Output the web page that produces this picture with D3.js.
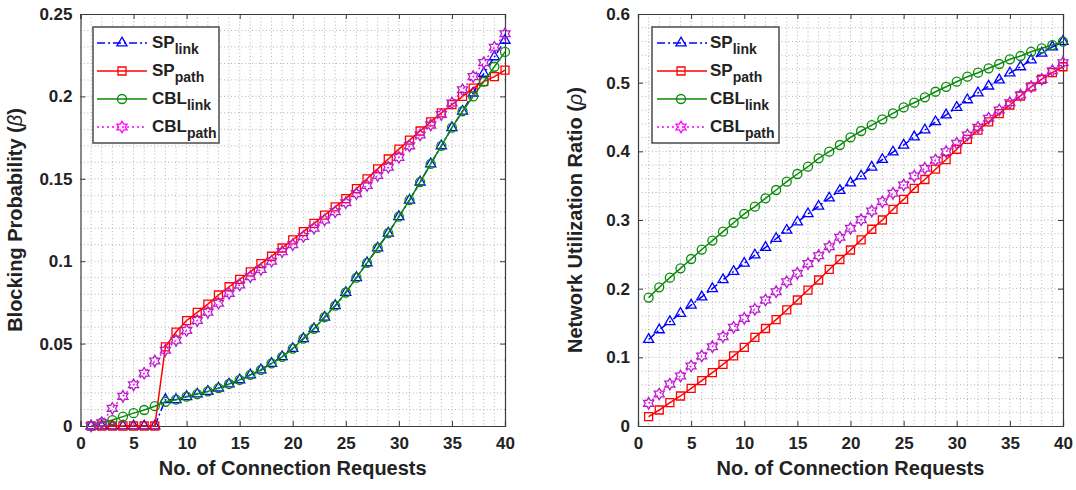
<!DOCTYPE html>
<html>
<head>
<meta charset="utf-8">
<title>Blocking probability and network utilization</title>
<script src="https://d3js.org/d3.v7.min.js"></script>
<style>
  body { margin: 0; background: #fff; }
  text { font-family: "Liberation Sans", Arial, sans-serif; font-weight: bold; fill: #222; }
  .grid line { stroke: #b5b5b5; stroke-width: 1; stroke-dasharray: 1,2.5; }
  .axis path, .axis line { stroke: #3a3a3a; }
</style>
</head>
<body>
<svg width="1076" height="490"></svg>
<script>
// x values: number of connection requests
const requests = [1,2,3,4,5,6,7,8,9,10,11,12,13,14,15,16,17,18,19,20,
                  21,22,23,24,25,26,27,28,29,30,31,32,33,34,35,36,37,38,39,40];

// left panel: blocking probability
const blockSPlink = [0,0,0,0,0,0,0,0.016,0.016,0.0178,0.0194,0.021,0.023,0.0255,0.028,0.031,0.034,0.038,0.042,0.047,
                     0.053,0.059,0.066,0.073,0.081,0.09,0.099,0.108,0.117,0.127,0.137,0.148,0.159,0.17,0.181,0.191,0.202,0.214,0.224,0.234];
const blockSPpath = [0,0,0,0,0,0,0,0.048,0.057,0.064,0.069,0.074,0.0795,0.0845,0.089,0.0935,0.0985,0.103,0.108,0.113,
                     0.118,0.123,0.128,0.133,0.138,0.144,0.15,0.156,0.162,0.168,0.1735,0.179,0.1845,0.19,0.195,0.2,0.205,0.209,0.212,0.216];
const blockCBLlink = [0,0.002,0.0036,0.0057,0.0078,0.0097,0.012,0.0147,0.016,0.0178,0.0194,0.021,0.023,0.0255,0.028,0.031,0.034,0.038,0.042,0.047,
                      0.053,0.059,0.066,0.073,0.081,0.09,0.099,0.108,0.117,0.127,0.137,0.148,0.159,0.17,0.181,0.191,0.2,0.209,0.218,0.227];
const blockCBLpath = [0,0.002,0.0107,0.018,0.025,0.032,0.0394,0.046,0.052,0.058,0.064,0.069,0.0745,0.0805,0.0856,0.0906,0.095,0.1,0.1058,0.11,
                      0.115,0.12,0.125,0.13,0.1355,0.141,0.146,0.152,0.157,0.163,0.17,0.1766,0.1826,0.189,0.196,0.204,0.212,0.2205,0.2298,0.238];

// right panel: network utilization ratio
const utilSPlink = [0.126,0.14,0.152,0.164,0.176,0.188,0.2,0.213,0.225,0.237,0.249,0.26,0.273,0.285,0.297,0.309,0.32,0.332,0.343,0.354,
                    0.364,0.377,0.388,0.399,0.409,0.421,0.431,0.443,0.453,0.464,0.475,0.485,0.495,0.504,0.514,0.523,0.533,0.543,0.552,0.56];
const utilSPpath = [0.0136,0.0233,0.034,0.0437,0.0549,0.066,0.0776,0.0898,0.102,0.1146,0.129,0.142,0.155,0.169,0.1835,0.198,0.2126,0.228,0.2425,0.2563,
                    0.271,0.2865,0.3,0.3156,0.33,0.346,0.359,0.374,0.388,0.403,0.4175,0.431,0.443,0.455,0.4675,0.4806,0.494,0.505,0.5145,0.5232];
const utilCBLlink = [0.187,0.202,0.216,0.2296,0.2432,0.257,0.27,0.283,0.296,0.309,0.3194,0.3316,0.3437,0.3558,0.367,0.3776,0.3898,0.3995,0.4092,0.4204,
                     0.4296,0.4383,0.4466,0.4554,0.464,0.4708,0.4786,0.4868,0.494,0.5014,0.5087,0.5145,0.5209,0.5272,0.534,0.5388,0.545,0.55,0.5548,0.5597];
const utilCBLpath = [0.033,0.0466,0.061,0.0728,0.0874,0.102,0.1155,0.13,0.1437,0.1568,0.17,0.1835,0.1956,0.21,0.2224,0.2365,0.248,0.2611,0.2748,0.2879,
                     0.3005,0.313,0.3266,0.3389,0.351,0.364,0.3753,0.3874,0.3995,0.4117,0.4238,0.435,0.4481,0.4602,0.4708,0.482,0.4941,0.5048,0.5174,0.5291];

const xTicks = [0,5,10,15,20,25,30,35,40];
const blockTicks = [0,0.05,0.1,0.15,0.2,0.25];
const utilTicks = [0,0.1,0.2,0.3,0.4,0.5,0.6];

const seriesNames = [["SP","link"],["SP","path"],["CBL","link"],["CBL","path"]];

// style per series: line colour, marker colour, dash, marker shape
const styles = [
  { line: "#0000ff", mark: "#0000ff", dash: "8,3,2,3", shape: "triangle" },
  { line: "#ff0000", mark: "#ff0000", dash: null,      shape: "square" },
  { line: "#0a8a0a", mark: "#0a8a0a", dash: null,      shape: "circle" },
  { line: "#ff00ff", mark: "#b81ccc", dash: "2,3",     shape: "hexagram" }
];

const shapes = {
  triangle: () => { const R = 5.8; return `M0,${-R}L${R*0.87},${R*0.5}L${-R*0.87},${R*0.5}Z`; },
  square: () => "M-4,-4H4V4H-4Z",
  circle: () => d3.arc()({ innerRadius: 0, outerRadius: 4.5, startAngle: 0, endAngle: 2 * Math.PI }),
  hexagram: () => {
    const R = 5.8, r = R / Math.sqrt(3), p = d3.path();
    for (let i = 0; i < 12; i++) {
      const a = -Math.PI / 2 + i * Math.PI / 6, rr = i % 2 ? r : R;
      i ? p.lineTo(rr * Math.cos(a), rr * Math.sin(a)) : p.moveTo(rr * Math.cos(a), rr * Math.sin(a));
    }
    p.closePath();
    return p.toString();
  }
};

const panels = [
  { left: 80.5, right: 505, top: 14, bottom: 426, yMax: 0.25, yTicks: blockTicks, yMinor: 0.01,
    ylabel: "Blocking Probability (", sym: "β", labelX: 22,
    data: [blockSPlink, blockSPpath, blockCBLlink, blockCBLpath],
    legend: { x: 93, y: 27, w: 126, h: 116, lineX: [97, 147], markX: 122, textX: 152 } },
  { left: 638, right: 1063, top: 14, bottom: 426, yMax: 0.6, yTicks: utilTicks, yMinor: 0.02,
    ylabel: "Network Utilization Ratio (", sym: "ρ", labelX: 582,
    data: [utilSPlink, utilSPpath, utilCBLlink, utilCBLpath],
    legend: { x: 652, y: 27, w: 127, h: 116, lineX: [657, 707], markX: 681, textX: 710 } }
];

const svg = d3.select("svg");

panels.forEach(p => {
  const x = d3.scaleLinear().domain([0, 40]).range([p.left, p.right]);
  const y = d3.scaleLinear().domain([0, p.yMax]).range([p.bottom, p.top]);
  const g = svg.append("g");

  // dotted grid
  const grid = g.append("g").attr("class", "grid");
  grid.selectAll(".gx").data(d3.range(1, 40)).enter().append("line")
    .attr("x1", d => x(d)).attr("x2", d => x(d)).attr("y1", p.top).attr("y2", p.bottom);
  const nMinor = Math.round(p.yMax / p.yMinor);
  grid.selectAll(".gy").data(d3.range(1, nMinor)).enter().append("line")
    .attr("y1", d => y(d * p.yMinor)).attr("y2", d => y(d * p.yMinor)).attr("x1", p.left).attr("x2", p.right);

  // axes with inward ticks on all four sides
  const fmt = d => String(+d.toFixed(3));
  g.append("g").attr("class", "axis").attr("transform", `translate(0,${p.bottom})`)
    .call(d3.axisBottom(x).tickValues(xTicks).tickSize(-5).tickPadding(11).tickFormat(fmt));
  g.append("g").attr("class", "axis").attr("transform", `translate(0,${p.top})`)
    .call(d3.axisTop(x).tickValues(xTicks).tickSize(-5).tickFormat(""));
  g.append("g").attr("class", "axis").attr("transform", `translate(${p.left},0)`)
    .call(d3.axisLeft(y).tickValues(p.yTicks).tickSize(-5).tickPadding(8).tickFormat(fmt));
  g.append("g").attr("class", "axis").attr("transform", `translate(${p.right},0)`)
    .call(d3.axisRight(y).tickValues(p.yTicks).tickSize(-5).tickFormat(""));
  g.selectAll(".axis text").style("font-size", "17px").attr("fill", "#222")
    .style("font-family", '"Liberation Sans", Arial, sans-serif').style("font-weight", "bold");
  g.selectAll(".axis .domain").attr("stroke-width", 1.2);

  // series
  p.data.forEach((vals, i) => {
    const st = styles[i];
    const pts = requests.map((r, k) => [r, vals[k]]);
    g.append("path").datum(pts)
      .attr("fill", "none").attr("stroke", st.line).attr("stroke-width", 1.5)
      .attr("stroke-dasharray", st.dash)
      .attr("d", d3.line().x(d => x(d[0])).y(d => y(d[1])));
    g.selectAll(null).data(pts).enter().append("path")
      .attr("transform", d => `translate(${x(d[0])},${y(d[1])})`)
      .attr("d", shapes[st.shape]())
      .attr("fill", "none").attr("stroke", st.mark).attr("stroke-width", 1.3);
  });

  // axis labels
  g.append("text").attr("x", (p.left + p.right) / 2).attr("y", 475)
    .attr("text-anchor", "middle").style("font-size", "20px")
    .text("No. of Connection Requests");
  const yl = g.append("text")
    .attr("transform", `translate(${p.labelX},${(p.top + p.bottom) / 2}) rotate(-90)`)
    .attr("text-anchor", "middle").style("font-size", "20px");
  yl.append("tspan").text(p.ylabel);
  yl.append("tspan").style("font-weight", "normal").style("font-style", "italic").text(p.sym);
  yl.append("tspan").text(")");

  // legend
  const L = p.legend;
  const lg = g.append("g");
  lg.append("rect").attr("x", L.x).attr("y", L.y).attr("width", L.w).attr("height", L.h)
    .attr("fill", "#fff").attr("stroke", "#555").attr("stroke-width", 1.6);
  seriesNames.forEach((nm, i) => {
    const st = styles[i];
    const ly = L.y + 16 + i * 28;
    lg.append("line").attr("x1", L.lineX[0]).attr("x2", L.lineX[1]).attr("y1", ly).attr("y2", ly)
      .attr("stroke", st.line).attr("stroke-width", 1.5).attr("stroke-dasharray", st.dash);
    lg.append("path").attr("transform", `translate(${L.markX},${ly})`).attr("d", shapes[st.shape]())
      .attr("fill", "none").attr("stroke", st.line).attr("stroke-width", 1.3);
    const t = lg.append("text").attr("x", L.textX).attr("y", ly + 5).style("font-size", "17px");
    t.append("tspan").text(nm[0]);
    t.append("tspan").attr("dy", 6).style("font-size", "14px").text(nm[1]);
  });
});
</script>
</body>
</html>
